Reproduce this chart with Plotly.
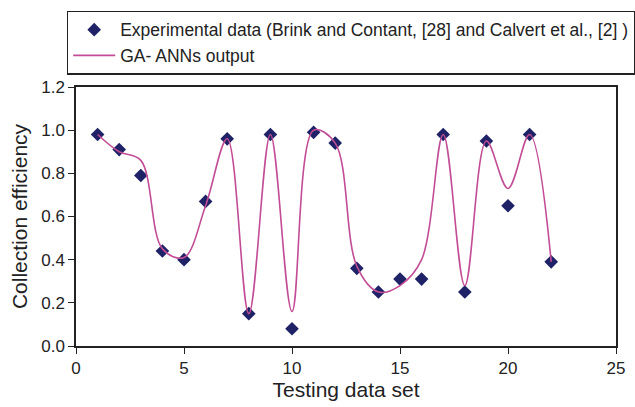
import plotly.graph_objects as go

x_idx = list(range(1, 23))
exp_values = [0.98, 0.91, 0.79, 0.44, 0.40, 0.67, 0.96, 0.15, 0.98, 0.08, 0.99,
              0.94, 0.36, 0.25, 0.31, 0.31, 0.98, 0.25, 0.95, 0.65, 0.98, 0.39]
ann_values = [0.98, 0.90, 0.86, 0.45, 0.41, 0.65, 0.96, 0.15, 0.98, 0.16, 1.00,
              0.94, 0.37, 0.25, 0.28, 0.40, 0.98, 0.28, 0.95, 0.73, 0.98, 0.39]
x_ticks = [0, 5, 10, 15, 20, 25]
y_ticks = [0.0, 0.2, 0.4, 0.6, 0.8, 1.0, 1.2]

font_family = "Liberation Sans, Arial, sans-serif"

fig = go.Figure()
fig.add_trace(go.Scatter(
    x=x_idx, y=exp_values, mode="markers",
    name="Experimental data (Brink and Contant, [28] and Calvert et al., [2] )",
    marker=dict(symbol="diamond", size=10.5, color="#1f2266"),
    legendgroup="a",
))
fig.add_trace(go.Scatter(
    x=x_idx, y=ann_values, mode="lines",
    name="GA- ANNs output",
    line=dict(color="#c24c95", width=1.6, shape="spline", smoothing=1.0),
    legendgroup="b",
))

fig.update_layout(
    width=635, height=407,
    margin=dict(l=76, r=10, t=86, b=60),
    paper_bgcolor="white", plot_bgcolor="white",
    font=dict(family=font_family, color="#222222"),
    showlegend=True,
    legend=dict(
        x=-0.0164, y=1.295, xanchor="left", yanchor="top",
        bordercolor="#222222", borderwidth=1.2,
        font=dict(size=17.5, family=font_family, color="#222222"),
        tracegroupgap=0, traceorder="grouped", itemwidth=42,
        bgcolor="white",
    ),
    xaxis=dict(
        range=[0, 25], tickvals=x_ticks, ticks="outside", ticklen=6,
        tickcolor="#222222", showline=True, linecolor="#222222", linewidth=1.5,
        mirror=True, showgrid=False, zeroline=False,
        tickfont=dict(size=17),
        title=dict(text="Testing data set", font=dict(size=21), standoff=4),
    ),
    yaxis=dict(
        range=[0, 1.2], tickvals=y_ticks, tickformat=".1f", ticks="outside",
        ticklen=6, tickcolor="#222222", showline=True, linecolor="#222222",
        linewidth=1.5, mirror=True, showgrid=False, zeroline=False,
        tickfont=dict(size=17),
        title=dict(text="Collection efficiency", font=dict(size=21), standoff=8),
    ),
)

fig.write_html("out.html")
